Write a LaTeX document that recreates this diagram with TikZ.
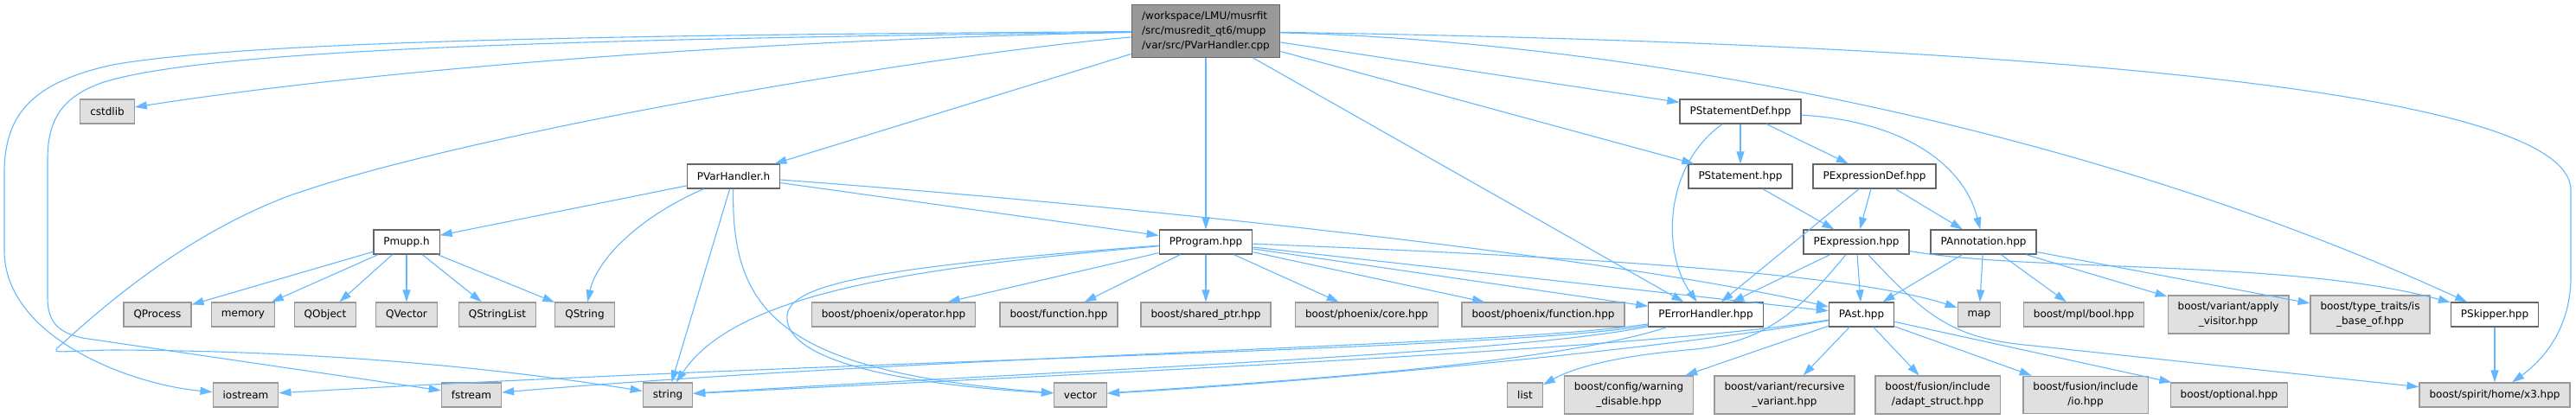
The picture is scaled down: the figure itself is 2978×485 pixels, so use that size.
\documentclass[tikz,border=0pt]{standalone}
\usepackage{fontspec}
\setmainfont{DejaVu Sans}
\usetikzlibrary{arrows.meta}

\definecolor{edgeblue}{HTML}{63B8FF}
\definecolor{boxgrey}{HTML}{E0E0E0}
\definecolor{rimgrey}{HTML}{999999}
\definecolor{rimdark}{HTML}{666666}

\tikzset{
  box/.style={rectangle,line width=1.2pt,inner xsep=11.5pt,inner ysep=7.5pt,minimum height=28pt,align=center,font=\fontsize{12}{17}\selectfont},
  loc/.style={box,draw=rimdark,fill=white},
  sys/.style={box,draw=rimgrey,fill=boxgrey},
  dep/.style={draw=edgeblue,line width=1.1pt,-{Triangle[length=14pt,width=9pt]}},
}

\begin{document}
\begin{tikzpicture}[x=1pt,y=-1pt]
  \useasboundingbox (0,0) rectangle (2978,485);

  % files
  \node[box,draw=rimdark,fill=rimgrey,align=left,inner xsep=12pt] (root) at (1394,36) {/workspace/LMU/musrfit\\/src/musredit\_qt6/mupp\\/var/src/PVarHandler.cpp};
  \node[sys] (cstdlib) at (124,129) {cstdlib};
  \node[loc] (pstdef) at (2012,129) {PStatementDef.hpp};
  \node[loc] (pvarh) at (848,204) {PVarHandler.h};
  \node[loc] (pstmt) at (2012,204) {PStatement.hpp};
  \node[loc] (pexdef) at (2167,204) {PExpressionDef.hpp};
  \node[loc] (pmupp) at (470,280) {Pmupp.h};
  \node[loc] (pprog) at (1394,280) {PProgram.hpp};
  \node[loc] (pexpr) at (2146,280) {PExpression.hpp};
  \node[loc] (pannot) at (2293,280) {PAnnotation.hpp};

  \node[sys] (qproc) at (182,364) {QProcess};
  \node[sys] (memory) at (281,364) {memory};
  \node[sys] (qobj) at (376,364) {QObject};
  \node[sys] (qvec) at (470,364) {QVector};
  \node[sys] (qslist) at (575,364) {QStringList};
  \node[sys] (qstring) at (676,364) {QString};
  \node[sys] (oper) at (1033,364) {boost/phoenix/operator.hpp};
  \node[sys] (bfunc) at (1224,364) {boost/function.hpp};
  \node[sys] (sptr) at (1394,364) {boost/shared\_ptr.hpp};
  \node[sys] (pcore) at (1580,364) {boost/phoenix/core.hpp};
  \node[sys] (pfunc) at (1784,364) {boost/phoenix/function.hpp};
  \node[loc] (perr) at (1972,364) {PErrorHandler.hpp};
  \node[loc] (past) at (2152,364) {PAst.hpp};
  \node[sys] (map) at (2288,364) {map};
  \node[sys] (mbool) at (2409,364) {boost/mpl/bool.hpp};
  \node[sys] (apply) at (2576,364) {boost/variant/apply\\\_visitor.hpp};
  \node[sys] (isbase) at (2740,364) {boost/type\_traits/is\\\_base\_of.hpp};
  \node[loc] (pskip) at (2884,364) {PSkipper.hpp};

  \node[sys] (iostream) at (284,457) {iostream};
  \node[sys] (fstream) at (545,457) {fstream};
  \node[sys] (string) at (772,457) {string};
  \node[sys] (vector) at (1249,457) {vector};
  \node[sys] (list) at (1763,457) {list};
  \node[sys] (warn) at (1883,457) {boost/config/warning\\\_disable.hpp};
  \node[sys] (recvar) at (2063,457) {boost/variant/recursive\\\_variant.hpp};
  \node[sys] (adapt) at (2240,457) {boost/fusion/include\\/adapt\_struct.hpp};
  \node[sys] (fio) at (2411,457) {boost/fusion/include\\/io.hpp};
  \node[sys] (optional) at (2577,457) {boost/optional.hpp};
  \node[sys] (x3) at (2884,457) {boost/spirit/home/x3.hpp};

  % PVarHandler.cpp
  \draw[dep] (root) .. controls (800,40) and (300,45) .. (130,75) .. controls (40,95) and (5,130) .. (5,200) -- (5,290) .. controls (5,390) and (150,445) .. (iostream);
  \draw[dep] (root) .. controls (700,45) and (250,55) .. (120,95) .. controls (70,112) and (55,140) .. (55,185) -- (55,345) .. controls (55,375) and (70,385) .. (95,391) -- (fstream);
  \draw[dep] (root) .. controls (1100,60) and (550,150) .. (333,227) .. controls (220,270) and (130,345) .. (75,395) .. controls (55,412) and (60,406) .. (130,405) .. controls (400,406) and (600,430) .. (string);
  \draw[dep] (root) .. controls (900,45) and (450,78) .. (cstdlib);
  \draw[dep] (root) -- (pvarh);
  \draw[dep] (root) -- (pprog);
  \draw[dep] (root) -- (perr);
  \draw[dep] (root) -- (pstdef);
  \draw[dep] (root) -- (pstmt);
  \draw[dep] (root) .. controls (1800,45) and (2350,120) .. (pskip);
  \draw[dep] (root) .. controls (2300,50) and (2972,100) .. (2972,220) -- (2972,320) .. controls (2972,385) and (2935,420) .. (x3);

  % PVarHandler.h
  \draw[dep] (pvarh) -- (pmupp);
  \draw[dep] (pvarh) .. controls (740,250) and (690,300) .. (qstring);
  \draw[dep] (pvarh) -- (string);
  \draw[dep] (pvarh) .. controls (845,360) and (900,430) .. (vector);
  \draw[dep] (pvarh) -- (pprog);
  \draw[dep] (pvarh) .. controls (1400,245) and (1900,305) .. (past);

  % Pmupp.h
  \draw[dep] (pmupp) -- (qproc);
  \draw[dep] (pmupp) -- (memory);
  \draw[dep] (pmupp) -- (qobj);
  \draw[dep] (pmupp) -- (qvec);
  \draw[dep] (pmupp) -- (qslist);
  \draw[dep] (pmupp) -- (qstring);

  % PProgram.hpp
  \draw[dep] (pprog) -- (oper);
  \draw[dep] (pprog) -- (bfunc);
  \draw[dep] (pprog) -- (sptr);
  \draw[dep] (pprog) -- (pcore);
  \draw[dep] (pprog) -- (pfunc);
  \draw[dep] (pprog) -- (perr);
  \draw[dep] (pprog) -- (past);
  \draw[dep] (pprog) .. controls (1900,300) and (2150,320) .. (map);
  \draw[dep] (pprog) .. controls (1050,310) and (850,340) .. (string);
  \draw[dep] (pprog) .. controls (1000,310) and (905,330) .. (910,370) .. controls (915,420) and (1050,445) .. (vector);

  % PErrorHandler.hpp
  \draw[dep] (perr) .. controls (1750,405) and (1000,415) .. (iostream);
  \draw[dep] (perr) .. controls (1750,400) and (1100,410) .. (fstream);
  \draw[dep] (perr) .. controls (1750,410) and (1200,430) .. (string);
  \draw[dep] (perr) .. controls (1800,420) and (1500,440) .. (vector);

  % PStatementDef.hpp and the parser headers
  \draw[dep] (pstdef) -- (pstmt);
  \draw[dep] (pstdef) -- (pexdef);
  \draw[dep] (pstdef) .. controls (2200,140) and (2270,190) .. (pannot);
  \draw[dep] (pstdef) .. controls (1925,190) and (1920,290) .. (perr);
  \draw[dep] (pstmt) -- (pexpr);
  \draw[dep] (pexdef) -- (pexpr);
  \draw[dep] (pexdef) -- (pannot);
  \draw[dep] (pexdef) -- (perr);

  % PExpression.hpp
  \draw[dep] (pexpr) -- (perr);
  \draw[dep] (pexpr) -- (past);
  \draw[dep] (pexpr) .. controls (2080,360) and (2040,398) .. (1950,405) .. controls (1870,412) and (1820,425) .. (list);
  \draw[dep] (pexpr) .. controls (2230,370) and (2260,392) .. (2350,400) -- (x3);
  \draw[dep] (pexpr) .. controls (2350,315) and (2650,300) .. (pskip);

  % PAnnotation.hpp
  \draw[dep] (pannot) -- (past);
  \draw[dep] (pannot) -- (map);
  \draw[dep] (pannot) -- (mbool);
  \draw[dep] (pannot) -- (apply);
  \draw[dep] (pannot) -- (isbase);

  % PAst.hpp
  \draw[dep] (past) .. controls (1950,400) and (1550,440) .. (vector);
  \draw[dep] (past) .. controls (1900,405) and (1200,435) .. (string);
  \draw[dep] (past) -- (warn);
  \draw[dep] (past) -- (recvar);
  \draw[dep] (past) -- (adapt);
  \draw[dep] (past) -- (fio);
  \draw[dep] (past) -- (optional);

  % PSkipper.hpp
  \draw[dep] (pskip) -- (x3);
\end{tikzpicture}
\end{document}
